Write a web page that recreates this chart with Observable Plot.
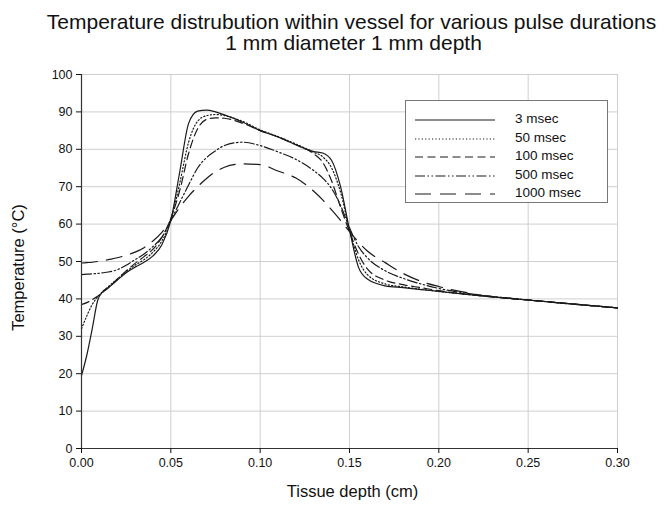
<!DOCTYPE html>
<html>
<head>
<meta charset="utf-8">
<script src="https://cdn.jsdelivr.net/npm/d3@7"></script>
<script src="https://cdn.jsdelivr.net/npm/@observablehq/plot@0.6"></script>
<style>
  body { margin: 0; background: #fff; font-family: "Liberation Sans", Arial, sans-serif; }
  #wrap { position: relative; width: 666px; height: 512px; }
  #legend { position: absolute; left: 405px; top: 100px; width: 203px; height: 103px;
    border: 1px solid #777; background: #fff; box-sizing: border-box; }
  .row { position: absolute; left: 0; height: 18px; }
  .row svg { position: absolute; left: 9px; top: 4px; }
  .row span { position: absolute; left: 109px; top: 0px; font-size: 13.5px; color: #111; white-space: nowrap; }
</style>
</head>
<body>
<div id="wrap"><div id="chart"></div><div id="legend"></div></div>
<script>
// Data
const depth = [0, 0.003, 0.006, 0.009, 0.012, 0.015, 0.02, 0.025, 0.03, 0.035, 0.04, 0.045, 0.05, 0.055, 0.06, 0.065, 0.07, 0.075, 0.08, 0.09, 0.10, 0.11, 0.12, 0.13, 0.135, 0.14, 0.145, 0.15, 0.155, 0.16, 0.17, 0.18, 0.19, 0.20, 0.22, 0.25, 0.30];
const t3    = [19.5, 25, 32, 39.5, 42, 43, 45, 47, 48.5, 49.8, 51.5, 54.5, 61, 74, 87, 90.2, 90.5, 90, 89.2, 87.3, 85, 83.3, 81.2, 79.4, 79, 77, 70, 58.5, 48.5, 45.3, 43.5, 43, 42.5, 42, 41, 39.7, 37.6];
const t50   = [32, 35.5, 38.5, 40.5, 42, 43.3, 45.3, 47.3, 49, 50.5, 52.5, 55.5, 61, 71, 82, 87.5, 89, 89.3, 89, 87.5, 85.2, 83.4, 81.4, 79.2, 78, 75, 68.5, 58.5, 50.5, 46.5, 44, 43.2, 42.6, 42, 41, 39.7, 37.6];
const t100  = [38.5, 39, 39.8, 40.7, 41.8, 43, 45.3, 47.5, 49.5, 51.3, 53.3, 56.5, 61.5, 69, 79, 85.5, 88, 88.4, 88.3, 87, 85, 83.3, 81.2, 78.8, 76.5, 71.5, 64.5, 58, 52, 48, 45, 43.8, 43, 42.2, 41, 39.7, 37.6];
const t500  = [46.5, 46.6, 46.7, 46.8, 47, 47.2, 47.8, 49, 50.5, 52, 54, 56.5, 61, 65.8, 70.5, 75, 77.8, 79.6, 81, 81.9, 81, 79.3, 77.3, 74.3, 72.3, 69.5, 65, 59, 54, 51, 47.5, 45.5, 44, 42.8, 41.2, 39.7, 37.6];
const t1000 = [49.6, 49.7, 49.8, 50, 50.2, 50.5, 51, 51.7, 52.5, 53.7, 55.5, 57.8, 61, 64.5, 67.5, 70, 72.2, 74, 75.2, 76.1, 75.9, 74.2, 72.3, 68.8, 66.5, 63.8, 61, 58, 55.2, 52.8, 49.7, 46.8, 44.7, 43.3, 41.3, 39.7, 37.6];
const seriesNames = ["3 msec", "50 msec", "100 msec", "500 msec", "1000 msec"];
const xTicks = [0, 0.05, 0.10, 0.15, 0.20, 0.25, 0.30];
const yTicks = [0, 10, 20, 30, 40, 50, 60, 70, 80, 90, 100];
const titleLines = ["Temperature distrubution within vessel for various pulse durations", "1 mm diameter 1 mm depth"];
const xLabel = "Tissue depth (cm)";
const yLabel = "Temperature (\u00B0C)";

// Styles
const dashes = ["none", "1.2,2.2", "8,4.5", "10,2.5,1.5,2.5,1.5,2.5", "16,9"];
const ink = "#1a1a1a";

const allValues = [t3, t50, t100, t500, t1000];
const series = seriesNames.map((name, k) => ({
  name, dash: dashes[k],
  rows: depth.map((x, i) => ({x, t: allValues[k][i], name}))
}));

const plot = Plot.plot({
  width: 666, height: 512,
  marginLeft: 81, marginRight: 49, marginTop: 74, marginBottom: 64,
  style: {fontFamily: '"Liberation Sans", Arial, sans-serif', fontSize: "12.5px", color: "#111", background: "#fff"},
  x: {domain: [0, 0.30]},
  y: {domain: [0, 100]},
  marks: [
    Plot.gridX(xTicks, {stroke: "#cfcfcf", strokeOpacity: 1, strokeWidth: 1}),
    Plot.gridY(yTicks, {stroke: "#cfcfcf", strokeOpacity: 1, strokeWidth: 1}),
    ...series.map(s => Plot.line(s.rows, {x: "x", y: "t", curve: "monotone-x", stroke: ink, strokeWidth: 1.2, strokeDasharray: s.dash})),
    Plot.ruleX([0], {stroke: "#333", strokeWidth: 1.2}),
    Plot.ruleY([0], {stroke: "#333", strokeWidth: 1.2}),
    Plot.axisX(xTicks, {tickSize: 5, tickPadding: 5, tickFormat: d => d.toFixed(2), label: null, fontSize: 12.5}),
    Plot.axisY(yTicks, {tickSize: 5, tickPadding: 4, label: null, fontSize: 12.5}),
    Plot.text([xLabel], {frameAnchor: "bottom", dy: 48, dx: 3, fontSize: 16.5, fill: "#111"}),
    Plot.text([yLabel], {frameAnchor: "left", dx: -63, dy: 6, rotate: -90, textAnchor: "middle", fontSize: 16.5, fill: "#111"}),
    Plot.text([titleLines[0]], {frameAnchor: "top", dy: -60, dx: 2, fontSize: 21, fill: "#111"}),
    Plot.text([titleLines[1]], {frameAnchor: "top", dy: -39, dx: 4, fontSize: 21, fill: "#111"})
  ]
});
document.getElementById("chart").appendChild(plot);

// Legend
const legend = document.getElementById("legend");
series.forEach((s, k) => {
  const row = document.createElement("div");
  row.className = "row";
  row.style.top = (10 + k * 18.5) + "px";
  row.style.width = "200px";
  row.innerHTML = `<svg width="82" height="10"><line x1="0" x2="80" y1="5" y2="5" stroke="${ink}" stroke-width="1.2" stroke-dasharray="${s.dash}"/></svg><span>${s.name}</span>`;
  legend.appendChild(row);
});
</script>
</body>
</html>
